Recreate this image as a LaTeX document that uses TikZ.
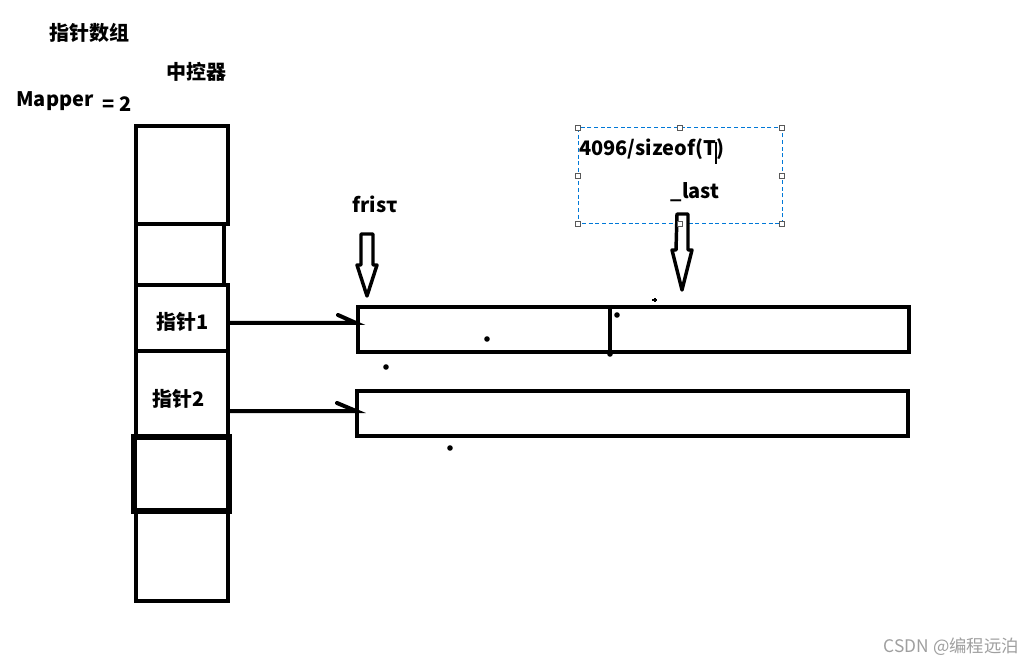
\documentclass[tikz,border=0pt]{standalone}
\usepackage{fontspec}
\setmainfont{Noto Sans CJK SC}
\begin{document}
\begin{tikzpicture}[x=0.75pt,y=-0.75pt,
  cell/.style={draw=black,line width=3pt},
  lbl/.style={font=\fontsize{15pt}{17pt}\selectfont\bfseries,inner sep=0pt,anchor=center},
  conn/.style={line width=3pt,line cap=round},
  hollow/.style={draw=black,line width=2.6pt,line join=round,fill=white},
  dot/.style={circle,fill=black,inner sep=0pt,minimum size=4.2pt},
  handle/.style={draw=gray!70!black,fill=white,line width=0.5pt,minimum size=3.5pt,inner sep=0pt}]
\useasboundingbox[fill=white] (0,0) rectangle (1034,666);

% titles
\node[lbl] (title) at (89,33) {指针数组};
\node[lbl] (ctrl) at (196,72) {中控器};
\node[lbl] (mapper) at (55,101) {Mapper};
\node[lbl] (eq) at (117,104) {= 2};

% central control column
\draw[cell] (136,126) rectangle (228,224);
\draw[cell] (136,224) rectangle (224,285);
\draw[cell] (136,285) rectangle (228,351);
\draw[cell] (136,351) rectangle (228,437);
\draw[cell,line width=4.5pt] (134,437) rectangle (229,511);
\draw[cell] (136,511) rectangle (228,601);
\node[lbl] (p1) at (183,322) {指针1};
\node[lbl] (p2) at (179,399) {指针2};

% buffers
\node[cell,minimum width=413.25pt,minimum height=33.75pt,inner sep=0pt] (buf1) at (633.5,329.5) {};
\node[cell,minimum width=413.25pt,minimum height=33.75pt,inner sep=0pt] (buf2) at (632.5,413.5) {};
\draw[line width=2.5pt] (buf1.north -| 610,0) -- (buf1.south -| 610,0);

% connectors
\coordinate (a1s) at (228,323);
\coordinate (a1e) at (356,323);
\coordinate (a2s) at (228,411);
\coordinate (a2e) at (356,411);
\draw[conn] (a1s) -- (a1e) -- ++(-18,-8);
\draw[conn] (a2s) -- (a2e) -- ++(-19,-8);

% first pointer
\node[lbl] (first) at (375,204) {frisτ};
\draw[hollow] (361,234) -- (373,234) -- (373,265) -- (377,265) -- (367,296) -- (357,265) -- (361,265) -- cycle;

% text box
\draw[draw={rgb,255:red,0;green,120;blue,215},line width=0.75pt,dash pattern=on 3pt off 2pt] (578,128) rectangle (782,224);
\node[lbl,anchor=west] (size) at (579,149) {4096/sizeof(T)};
\draw[line width=0.8pt] (716,142) -- (716,164);
\node[lbl] (last) at (695,192) {\_last};
\draw[hollow] (677,214) -- (688,214) -- (688,250) -- (692,250) -- (682,290) -- (672,250) -- (676,250) -- cycle;
\foreach \p in {(578,128),(680,128),(782,128),(578,176),(782,176),(578,224),(680,224),(782,224)}
  \node[handle] at \p {};

% stray marks
\node[dot] at (487,339) {};
\node[dot] at (386,367) {};
\node[dot] at (610,354) {};
\node[dot] at (617,315) {};
\node[dot] at (450,448) {};
\draw[line width=1pt] (652,300) -- (657,300) (655,298) -- (655,302);

% watermark
\node[font=\fontsize{13pt}{15pt}\selectfont,text=gray!75,anchor=east,inner sep=0pt] (wm) at (1019,647) {CSDN @编程远泊};
\end{tikzpicture}
\end{document}
